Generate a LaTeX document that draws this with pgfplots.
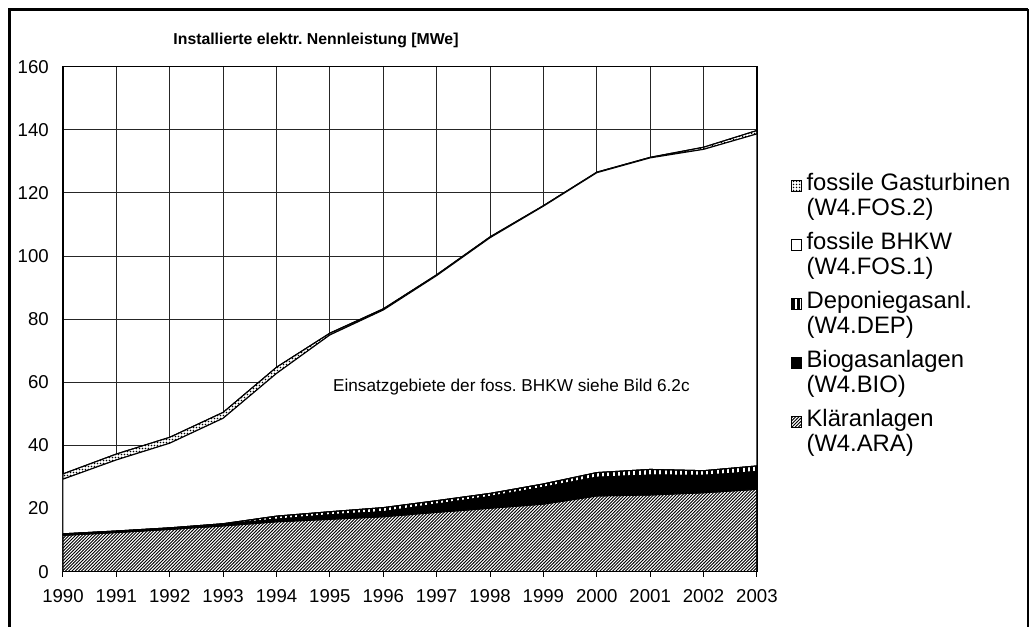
\documentclass[border=0pt]{standalone}
\usepackage{fontspec}
\setmainfont{Liberation Sans}
\usepackage{pgfplots}
\pgfplotsset{compat=1.18}
\usepackage{pgfplotstable}
\usetikzlibrary{patterns}
\frenchspacing

% fine fills, closer to the original print
\pgfdeclarepatternformonly{araHatch}{\pgfqpoint{-0.5pt}{-0.5pt}}{\pgfqpoint{2.1pt}{2.1pt}}{\pgfqpoint{1.6pt}{1.6pt}}{
  \pgfsetlinewidth{0.45pt}
  \pgfpathmoveto{\pgfqpoint{-0.05pt}{-0.05pt}}
  \pgfpathlineto{\pgfqpoint{1.65pt}{1.65pt}}
  \pgfusepath{stroke}}
\pgfdeclarepatternformonly{depLines}{\pgfqpoint{-0.5pt}{-0.5pt}}{\pgfqpoint{3.1pt}{3.1pt}}{\pgfqpoint{2.6pt}{2.6pt}}{
  \pgfsetlinewidth{1.6pt}
  \pgfpathmoveto{\pgfqpoint{1.3pt}{-0.1pt}}
  \pgfpathlineto{\pgfqpoint{1.3pt}{2.7pt}}
  \pgfusepath{stroke}}
\pgfdeclarepatternformonly{fosDots}{\pgfqpoint{-0.5pt}{-0.5pt}}{\pgfqpoint{2pt}{2pt}}{\pgfqpoint{1.5pt}{1.5pt}}{
  \pgfpathcircle{\pgfqpoint{0.75pt}{0.75pt}}{0.38pt}
  \pgfusepath{fill}}

\tikzset{
  ara/.style={fill=white, postaction={pattern=araHatch}},
  bio/.style={fill=black},
  dep/.style={fill=white, postaction={pattern=depLines}},
  fosa/.style={fill=white},
  fosb/.style={fill=white, postaction={pattern=fosDots}},
}

% increments of the stacked areas [MWe]
\pgfplotstableread{
year  ara   bio  dep  fos1   fos2
1990  11.5  0.4  0.1  17.3   1.7
1991  12.4  0.4  0.1  22.5   1.9
1992  13.4  0.4  0.1  26.8   1.9
1993  14.5  0.5  0.2  33.4   1.9
1994  15.8  0.8  1.0  45.2   2.0
1995  16.6  1.4  1.0  56.0   0.6
1996  17.4  1.6  1.3  62.6   0.4
1997  18.8  2.6  1.1  71.3   0.3
1998  20.1  3.7  1.0  81.0   0.3
1999  21.4  5.3  1.1  88.0   0.2
2000  24.0  5.9  1.5  95.0   0.2
2001  24.3  6.3  1.8  98.7   0.2
2002  25.0  5.5  1.5  101.8  0.7
2003  26.1  5.6  1.8  105.2  1.1
}\leistung

\begin{document}
\begin{tikzpicture}
  \useasboundingbox (-31.5pt,-27.65pt) rectangle (483.5pt,285.85pt);
  % frame of the figure
  \draw[line width=1.5pt] (-26.75pt,-30pt) -- (-26.75pt,281.1pt) -- (482.5pt,281.1pt);
  \draw[line width=0.8pt] (482.5pt,281.1pt) -- (482.5pt,-30pt);
  \begin{axis}[
      at={(0pt,0pt)}, anchor=south west,
      scale only axis,
      width=347pt, height=252.5pt,
      xmin=1990, xmax=2003, ymin=0, ymax=160,
      xtick={1990,...,2003},
      ytick={0,20,...,160},
      stack plots=y,
      grid=major,
      major grid style={draw=black!85, line width=0.45pt},
      axis line style={draw=black, line width=0.55pt},
      xtick pos=left,
      tick align=outside,
      major tick length=2.6pt,
      ytick style={draw=none},
      xtick style={draw=black, line width=0.5pt},
      /pgf/number format/assume math mode=true,
      tick label style={font=\fontsize{9.3}{11}\selectfont},
      xticklabel style={/pgf/number format/1000 sep={}, yshift=-2.8pt},
      yticklabel style={xshift=-1pt},
      every axis plot/.append style={draw=black, line width=0.5pt},
  ]
    \addplot[ara]  table[x=year, y=ara]  {\leistung} \closedcycle;
    \addplot[bio]  table[x=year, y=bio]  {\leistung} \closedcycle;
    \addplot[dep]  table[x=year, y=dep]  {\leistung} \closedcycle;
    \addplot[fosa] table[x=year, y=fos1] {\leistung} \closedcycle;
    \addplot[fosb] table[x=year, y=fos2] {\leistung} \closedcycle;
  \end{axis}

  % title and note
  \node[font=\bfseries\fontsize{7.9}{10}\selectfont, anchor=base]
    at (126.5pt,263.5pt) {Installierte elektr. Nennleistung [MWe]};
  \node[font=\fontsize{8.6}{10}\selectfont]
    at (224.2pt,92.3pt) {Einsatzgebiete der foss. BHKW siehe Bild 6.2c};

  % legend
  \foreach \st/\la/\lb [count=\i from 0] in {
      fosb/fossile Gasturbinen/(W4.FOS.2),
      fosa/fossile BHKW/(W4.FOS.1),
      dep/Deponiegasanl./(W4.DEP),
      bio/Biogasanlagen/(W4.BIO),
      ara/Kläranlagen/(W4.ARA)} {
    \pgfmathsetmacro{\yb}{190.35-29.5*\i}
    \draw[\st, draw=black, line width=0.4pt] (364pt,\yb pt) rectangle (369.2pt,\yb pt+5.2pt);
    \node[anchor=base west, inner sep=0pt, font=\fontsize{11.9}{12.5}\selectfont]
      at (371.6pt,\yb pt) {\la};
    \node[anchor=base west, inner sep=0pt, font=\fontsize{11.9}{12.5}\selectfont]
      at (371.6pt,\yb pt-12.5pt) {\lb};
  }
\end{tikzpicture}
\end{document}
